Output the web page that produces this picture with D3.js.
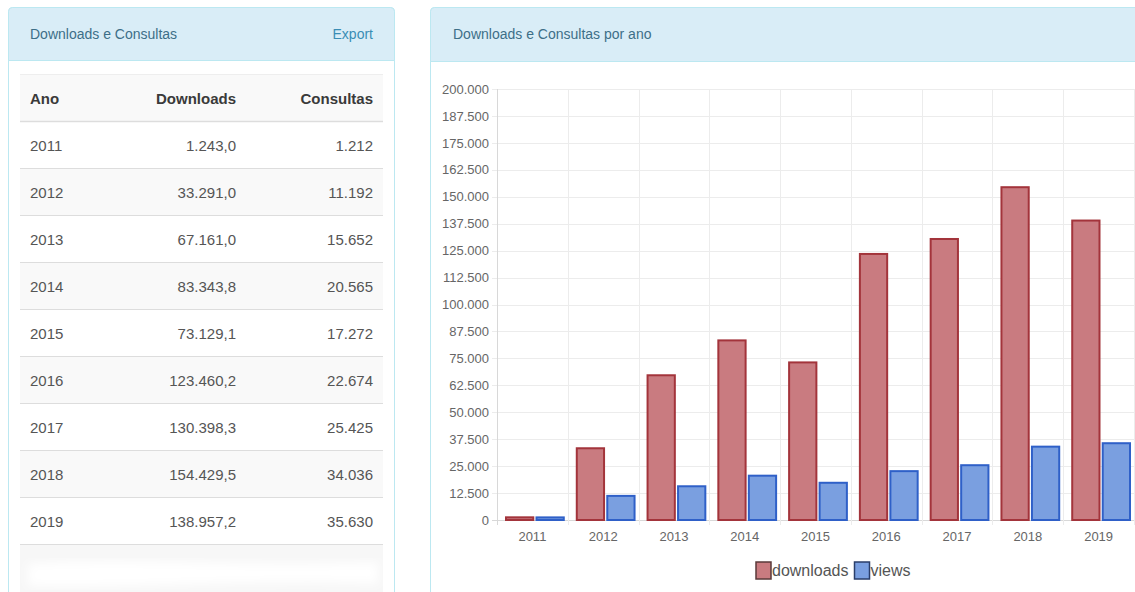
<!DOCTYPE html>
<html><head><meta charset="utf-8">
<script src="https://cdn.jsdelivr.net/npm/d3@7"></script>
<style>
html,body{margin:0;padding:0;background:#fff;}
svg{display:block;font-family:"Liberation Sans",Arial,Helvetica,sans-serif;}
</style></head>
<body>
<svg id="c" width="1135" height="592"></svg>
<script>
const years = ["2011","2012","2013","2014","2015","2016","2017","2018","2019"];
const downloads = [1243.0, 33291.0, 67161.0, 83343.8, 73129.1, 123460.2, 130398.3, 154429.5, 138957.2];
const views = [1212, 11192, 15652, 20565, 17272, 22674, 25425, 34036, 35630];
const yTicks = [0,12500,25000,37500,50000,62500,75000,87500,100000,112500,125000,137500,150000,162500,175000,187500,200000];
const leftTitle = "Downloads e Consultas";
const exportLabel = "Export";
const rightTitle = "Downloads e Consultas por ano";
const tableHeaders = ["Ano","Downloads","Consultas"];
const seriesNames = ["downloads","views"];

const loc = d3.formatLocale({decimal:",", thousands:".", grouping:[3], currency:["R$",""]});
const fmt1 = loc.format(",.1f"), fmt0 = loc.format(",.0f");

const svg = d3.select("#c");
const defs = svg.append("defs");
defs.append("filter").attr("id","blur").append("feGaussianBlur").attr("stdDeviation",5);

// ---------- Left panel ----------
const L = svg.append("g");
L.append("rect").attr("x",8.5).attr("y",7.5).attr("width",386).attr("height",600).attr("rx",4)
  .attr("fill","#fff").attr("stroke","#bce8f1");
L.append("path").attr("d","M8.5,60.5 V11.5 a4,4 0 0 1 4,-4 H390.5 a4,4 0 0 1 4,4 V60.5 Z")
  .attr("fill","#d9edf7").attr("stroke","#bce8f1");
L.append("text").attr("x",30).attr("y",39).attr("font-size",14).attr("fill","#3d6f88").text(leftTitle);
L.append("text").attr("x",373).attr("y",39).attr("font-size",14).attr("fill","#3a8db5").attr("text-anchor","end").text(exportLabel);

const tx0 = 20, tx1 = 383, rowH = 47, headTop = 74;
// header row
L.append("rect").attr("x",tx0).attr("y",headTop).attr("width",tx1-tx0).attr("height",rowH).attr("fill","#f9f9f9");
L.append("line").attr("x1",tx0).attr("x2",tx1).attr("y1",headTop+0.5).attr("y2",headTop+0.5).attr("stroke","#eee");
const colX = [30, 236, 373], colAnchor = ["start","end","end"];
tableHeaders.forEach((h,i)=>{
  L.append("text").attr("x",colX[i]).attr("y",headTop+30).attr("font-size",15).attr("font-weight","bold")
   .attr("fill","#3a3a3a").attr("text-anchor",colAnchor[i]).text(h);
});
const bodyTop = headTop + rowH;
const rows = L.selectAll("g.row").data(years).join("g").attr("class","row")
  .attr("transform",(d,i)=>`translate(0,${bodyTop + i*rowH})`);
rows.append("rect").attr("x",tx0).attr("width",tx1-tx0).attr("height",rowH)
  .attr("fill",(d,i)=> i%2===1 ? "#f9f9f9" : "#fff");
rows.append("line").attr("x1",tx0).attr("x2",tx1).attr("y1",0.5).attr("y2",0.5).attr("stroke","#ddd").attr("stroke-width",(d,i)=>i===0?1.5:1);
rows.append("text").attr("x",colX[0]).attr("y",30).attr("font-size",15).attr("fill","#555").text(d=>d);
rows.append("text").attr("x",colX[1]).attr("y",30).attr("font-size",15).attr("fill","#555").attr("text-anchor","end").text((d,i)=>fmt1(downloads[i]));
rows.append("text").attr("x",colX[2]).attr("y",30).attr("font-size",15).attr("fill","#555").attr("text-anchor","end").text((d,i)=>fmt0(views[i]));
// footer row (blurred)
const fTop = bodyTop + years.length*rowH;
L.append("rect").attr("x",tx0).attr("y",fTop).attr("width",tx1-tx0).attr("height",60).attr("fill","#f7f7f7");
L.append("line").attr("x1",tx0).attr("x2",tx1).attr("y1",fTop+0.5).attr("y2",fTop+0.5).attr("stroke","#ddd");
L.append("path").attr("d",`M28,${fTop+20} C120,${fTop+12} 250,${fTop+24} 378,${fTop+18} L378,${fTop+40} C250,${fTop+34} 120,${fTop+46} 28,${fTop+42} Z`)
  .attr("fill","#fff").attr("filter","url(#blur)");

// ---------- Right panel ----------
const R = svg.append("g");
R.append("rect").attr("x",430.5).attr("y",7.5).attr("width",720).attr("height",600).attr("rx",4)
  .attr("fill","#fff").attr("stroke","#bce8f1");
R.append("path").attr("d","M430.5,61.5 V11.5 a4,4 0 0 1 4,-4 H1150 V61.5 Z")
  .attr("fill","#d9edf7").attr("stroke","#bce8f1");
R.append("text").attr("x",453).attr("y",39).attr("font-size",14).attr("fill","#3d6f88").text(rightTitle);

// chart
const plotL = 497, plotR = 1134, plotT = 89, plotB = 520;
const x = d3.scaleBand().domain(years).range([plotL, plotR]).padding(0);
const y = d3.scaleLinear().domain([0,200000]).range([plotB, plotT]);
const bw = x.bandwidth();

const grid = R.append("g");
grid.selectAll("line.h").data(yTicks).join("line").attr("class","h")
  .attr("x1",plotL-5).attr("x2",plotR).attr("y1",d=>Math.round(y(d))+0.5).attr("y2",d=>Math.round(y(d))+0.5)
  .attr("stroke",d=>d===0?"#d8d8d8":"#ececec");
const bounds = years.map(d=>x(d)).concat([plotR]);
grid.selectAll("line.v").data(bounds).join("line").attr("class","v")
  .attr("x1",d=>Math.round(d)+0.5).attr("x2",d=>Math.round(d)+0.5).attr("y1",plotT).attr("y2",plotB+5)
  .attr("stroke",(d,i)=>i===0?"#d8d8d8":"#ececec");

const yAxis = d3.axisLeft(y).tickValues(yTicks).tickFormat(fmt0).tickSize(0).tickPadding(8);
const ya = R.append("g").attr("transform",`translate(${plotL},0)`).call(yAxis);
ya.select(".domain").remove();
ya.selectAll("text").attr("font-size",13).attr("fill","#666").attr("font-family","Liberation Sans, Arial, sans-serif");

const xAxis = d3.axisBottom(x).tickSize(0).tickPadding(12);
const xa = R.append("g").attr("transform",`translate(0,${plotB})`).call(xAxis);
xa.select(".domain").remove();
xa.selectAll("text").attr("font-size",13).attr("fill","#666").attr("font-family","Liberation Sans, Arial, sans-serif");

const inner = d3.scaleBand().domain(seriesNames).range([8, bw-3]).paddingInner(0.04);
const fills = {downloads:"#c97b80", views:"#7a9fe0"};
const strokes = {downloads:"#a3343b", views:"#2f60c8"};
const seriesData = {downloads, views};
seriesNames.forEach(s=>{
  R.append("g").selectAll("rect").data(years).join("rect")
    .attr("x",d=>x(d)+inner(s)+1)
    .attr("width",inner.bandwidth()-2)
    .attr("y",(d,i)=>y(seriesData[s][i]))
    .attr("height",(d,i)=>plotB - y(seriesData[s][i]))
    .attr("fill",fills[s]).attr("stroke",strokes[s]).attr("stroke-width",2);
});

// legend
const lg = R.append("g").attr("transform","translate(755,561)");
let lx = 0;
seriesNames.forEach(s=>{
  lg.append("rect").attr("x",lx+1).attr("y",1).attr("width",15).attr("height",17)
    .attr("fill",fills[s]).attr("stroke",s==="downloads"?"#5a3a3a":"#2a3e6a").attr("stroke-width",1.5);
  const t = lg.append("text").attr("x",lx+17).attr("y",15).attr("font-size",16).attr("fill","#555").text(s);
  lx += 17 + t.node().getComputedTextLength() + 5;
});
</script>
</body></html>
